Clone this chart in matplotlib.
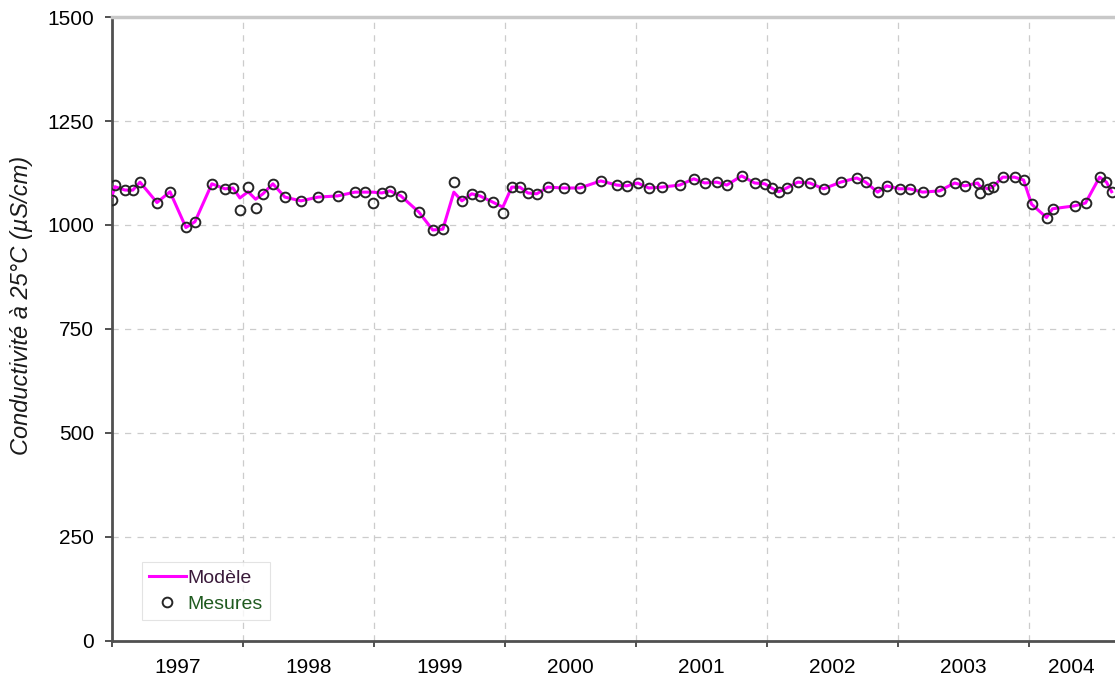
import numpy as np
import matplotlib
matplotlib.use("Agg")
import matplotlib.pyplot as plt
from matplotlib.ticker import FixedLocator, NullFormatter

plt.rcParams['font.family'] = ['Liberation Sans', 'DejaVu Sans']

# sampling dates (decimal years)
dates = [
    1997.000, 1997.023, 1997.099, 1997.160, 1997.214, 1997.344, 1997.443, 1997.565,
    1997.634, 1997.763, 1997.863, 1997.924, 1997.977, 1998.040, 1998.097, 1998.153,
    1998.229, 1998.321, 1998.443, 1998.573, 1998.725, 1998.855, 1998.931, 1998.992,
    1999.061, 1999.122, 1999.206, 1999.344, 1999.450, 1999.527, 1999.611, 1999.672,
    1999.748, 1999.809, 1999.908, 1999.985, 2000.053, 2000.115, 2000.176, 2000.244,
    2000.328, 2000.450, 2000.573, 2000.733, 2000.855, 2000.931, 2001.015, 2001.099,
    2001.198, 2001.336, 2001.443, 2001.527, 2001.618, 2001.695, 2001.809, 2001.908,
    2001.985, 2002.038, 2002.092, 2002.153, 2002.237, 2002.328, 2002.435, 2002.565,
    2002.687, 2002.756, 2002.847, 2002.916, 2003.015, 2003.092, 2003.191, 2003.321,
    2003.435, 2003.511, 2003.611, 2003.626, 2003.687, 2003.725, 2003.802, 2003.893,
    2003.962, 2004.023, 2004.137, 2004.183, 2004.351, 2004.435, 2004.542, 2004.595,
    2004.634,
]

# measured conductivity (uS/cm)
mesures = [
    1060, 1096, 1084, 1084, 1103, 1054, 1080, 994,
    1008, 1099, 1087, 1089, 1036, 1091, 1041, 1075,
    1099, 1067, 1058, 1067, 1070, 1079, 1079, 1053,
    1077, 1082, 1070, 1031, 988, 990, 1103, 1058,
    1075, 1070, 1055, 1029, 1091, 1091, 1077, 1075,
    1091, 1089, 1089, 1106, 1096, 1094, 1101, 1089,
    1091, 1096, 1111, 1101, 1103, 1096, 1118, 1101,
    1099, 1089, 1080, 1089, 1103, 1101, 1087, 1103,
    1113, 1103, 1079, 1094, 1087, 1087, 1079, 1082,
    1101, 1094, 1101, 1077, 1087, 1091, 1115, 1115,
    1108, 1050, 1018, 1039, 1046, 1053, 1115, 1103,
    1080,
]

# model output at the same dates
modele = [
    1070, 1092, 1084, 1084, 1103, 1054, 1080, 994,
    1008, 1099, 1087, 1089, 1065, 1080, 1062, 1075,
    1099, 1067, 1058, 1067, 1070, 1079, 1079, 1079,
    1077, 1082, 1070, 1031, 988, 990, 1079, 1058,
    1075, 1070, 1055, 1043, 1091, 1091, 1077, 1075,
    1091, 1089, 1089, 1106, 1096, 1094, 1101, 1089,
    1091, 1096, 1111, 1101, 1103, 1096, 1118, 1101,
    1099, 1089, 1080, 1089, 1103, 1101, 1087, 1103,
    1113, 1103, 1079, 1094, 1087, 1087, 1079, 1082,
    1101, 1094, 1101, 1094, 1087, 1091, 1115, 1115,
    1108, 1050, 1018, 1039, 1046, 1053, 1115, 1103,
    1080,
]

years = [1997, 1998, 1999, 2000, 2001, 2002, 2003, 2004]
xmin, xmax = 1997.0, 2004.66

fig = plt.figure(figsize=(11.15, 6.75), dpi=100)
ax = fig.add_axes([0.1004, 0.0504, 0.8996, 0.9244])

ax.plot(dates, modele, color='#ff00ff', lw=2.2, label='Modèle', zorder=3)
ax.plot(dates, mesures, ls='none', marker='o', ms=7, mfc='none',
        mec='#262626', mew=1.4, label='Mesures', zorder=4)

ax.set_xlim(xmin, xmax)
ax.set_ylim(0, 1500)

# year boundaries as major ticks, labels centred on the visible part of each year
ax.xaxis.set_major_locator(FixedLocator(years))
ax.xaxis.set_major_formatter(NullFormatter())
mids = [(max(y, xmin) + min(y + 1, xmax)) / 2 for y in years]
ax.xaxis.set_minor_locator(FixedLocator(mids))
ax.set_xticklabels([str(y) for y in years], minor=True)
ax.tick_params(axis='x', which='minor', length=0, pad=12, labelsize=15)
ax.tick_params(axis='x', which='major', length=4, width=1.2, color='#333333')
ax.set_yticks(np.arange(0, 1501, 250))
ax.tick_params(axis='y', length=5, width=1.2, color='#333333', labelsize=15, pad=8)

ax.grid(True, which='major', ls=(0, (5, 5)), color='#cccccc', lw=0.9)

for side in ['left', 'bottom']:
    ax.spines[side].set_color('#505050')
    ax.spines[side].set_linewidth(2)
ax.spines['top'].set_color('#c8c8c8')
ax.spines['top'].set_linewidth(2.5)
ax.spines['right'].set_visible(False)

ax.set_ylabel('Conductivité à 25°C (µS/cm)', fontsize=17, style='italic', color='#1a1a1a')
ax.yaxis.set_label_coords(-0.079, 0.537)

leg = ax.legend(loc='lower left', bbox_to_anchor=(0.03, 0.034), borderaxespad=0,
                fontsize=14, frameon=True, fancybox=False, edgecolor='#dddddd',
                handlelength=1.9, handletextpad=0.1, borderpad=0.35, labelspacing=0.45)
leg.get_frame().set_linewidth(0.8)
leg.get_texts()[0].set_color('#3a1a3a')
leg.get_texts()[1].set_color('#1f5a1f')

fig.savefig('out.png', dpi=100)
